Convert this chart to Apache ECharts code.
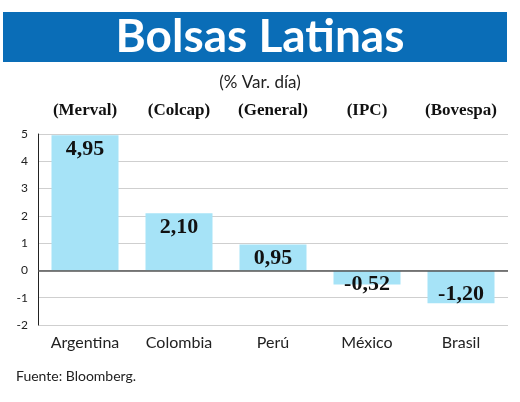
<!DOCTYPE html>
<html>
<head>
<meta charset="utf-8">
<script src="https://cdn.jsdelivr.net/npm/echarts@6/dist/echarts.min.js"></script>
<style>
  html, body { margin: 0; padding: 0; background: #fff; }
  #chart { width: 520px; height: 402px; }
</style>
</head>
<body>
<div id="chart"></div>
<script>
// datos
var paises = ['Argentina', 'Colombia', 'Perú', 'México', 'Brasil'];
var indices = ['(Merval)', '(Colcap)', '(General)', '(IPC)', '(Bovespa)'];
var variacion = [4.95, 2.10, 0.95, -0.52, -1.20];

var myChart = echarts.init(document.getElementById('chart'));

var barData = variacion.map(function (v) {
  return {
    value: v,
    label: { position: 'insideTop', distance: v < -1 ? 13 : 3 }
  };
});

var option = {
  animation: false,
  title: [
    {
      text: 'Bolsas Latinas',
      left: 'center',
      top: 9,
      textStyle: { color: '#fff', fontFamily: 'Lato', fontWeight: 'bold', fontSize: 46 }
    },
    {
      text: '(% Var. día)',
      left: 'center',
      top: 69,
      textStyle: { color: '#222', fontFamily: 'Lato', fontWeight: 'normal', fontSize: 17 }
    },
    {
      text: 'Fuente: Bloomberg.',
      left: 11,
      top: 364,
      textStyle: { color: '#222', fontFamily: 'Lato', fontWeight: 'normal', fontSize: 14 }
    }
  ],
  graphic: [
    {
      type: 'rect',
      z: -1,
      shape: { x: 3, y: 12, width: 504, height: 50 },
      style: { fill: '#0a6db7' }
    }
  ],
  grid: { left: 38, right: 12, top: 134, bottom: 77 },
  xAxis: [
    {
      type: 'category',
      data: paises,
      position: 'bottom',
      axisLine: { show: false },
      axisTick: { show: false },
      axisLabel: { color: '#222', fontFamily: 'Lato', fontSize: 16, margin: 10 }
    },
    {
      type: 'category',
      data: indices,
      position: 'top',
      axisLine: { show: false },
      axisTick: { show: false },
      axisLabel: { color: '#111', fontFamily: 'Liberation Serif', fontWeight: 'bold', fontSize: 17, margin: 15 }
    }
  ],
  yAxis: {
    type: 'value',
    min: -2,
    max: 5,
    interval: 1,
    axisLine: { show: true, onZero: false, lineStyle: { color: '#222', width: 1 } },
    axisTick: { show: false },
    axisLabel: { color: '#222', fontFamily: 'Lato', fontSize: 12, margin: 10 },
    splitLine: { lineStyle: { color: '#cfcfcf', width: 1 } }
  },
  series: [
    {
      type: 'bar',
      data: barData,
      barWidth: 67,
      itemStyle: { color: '#a6e3f7' },
      label: {
        show: true,
        color: '#111',
        fontFamily: 'Liberation Serif',
        fontWeight: 'bold',
        fontSize: 22,
        formatter: function (p) { return p.value.toFixed(2).replace('.', ','); }
      },
      markLine: {
        silent: true,
        symbol: 'none',
        label: { show: false },
        lineStyle: { color: '#555', type: 'solid', width: 1.5 },
        data: [{ yAxis: 0 }]
      }
    }
  ]
};

myChart.setOption(option);
</script>
</body>
</html>
